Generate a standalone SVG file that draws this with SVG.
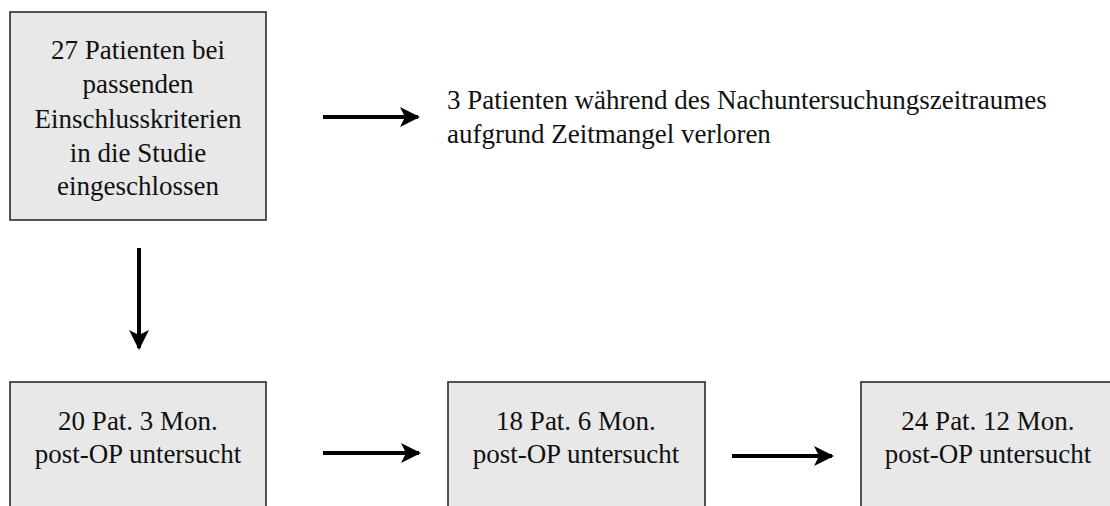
<svg xmlns="http://www.w3.org/2000/svg" width="1110" height="506" viewBox="0 0 1110 506">
<style>
.box{fill:#e8e8e8;stroke:#2b2b2b;stroke-width:1.6}
.t{font-family:'Liberation Serif','Times New Roman',Times,serif;font-size:27px;fill:#111}
.c{text-anchor:middle}
.a{stroke:#000;stroke-width:4;fill:none}
</style>
<defs>
<marker id="ah" viewBox="0 0 10 10" refX="9" refY="5" markerWidth="5" markerHeight="5" markerUnits="strokeWidth" orient="auto">
<path d="M0,0 L10,5 L0,10 L2.5,5 Z" fill="#000"/>
</marker>
</defs>
<rect width="1110" height="506" fill="#fff"/>
<g id="n1">
<rect class="box" x="10" y="12" width="256" height="208"/>
<text class="t c" x="138" y="59">27 Patienten bei</text>
<text class="t c" x="138" y="93">passenden</text>
<text class="t c" x="138" y="128">Einschlusskriterien</text>
<text class="t c" x="138" y="162">in die Studie</text>
<text class="t c" x="138" y="195">eingeschlossen</text>
</g>
<g id="n2">
<text class="t" x="447" y="109">3 Patienten während des Nachuntersuchungszeitraumes</text>
<text class="t" x="447" y="143">aufgrund Zeitmangel verloren</text>
</g>
<g id="n3">
<rect class="box" x="10" y="382" width="256" height="140"/>
<text class="t c" x="138" y="430">20 Pat. 3 Mon.</text>
<text class="t c" x="138" y="463">post-OP untersucht</text>
</g>
<g id="n4">
<rect class="box" x="448" y="382" width="257" height="140"/>
<text class="t c" x="576" y="430">18 Pat. 6 Mon.</text>
<text class="t c" x="576" y="463">post-OP untersucht</text>
</g>
<g id="n5">
<rect class="box" x="861" y="382" width="260" height="140"/>
<text class="t c" x="988" y="430">24 Pat. 12 Mon.</text>
<text class="t c" x="988" y="463">post-OP untersucht</text>
</g>
<g id="connectors">
<line class="a" x1="323" y1="117" x2="418" y2="117" marker-end="url(#ah)"/>
<line class="a" x1="139" y1="248" x2="139" y2="348" marker-end="url(#ah)"/>
<line class="a" x1="323" y1="453" x2="419" y2="453" marker-end="url(#ah)"/>
<line class="a" x1="732" y1="456" x2="832" y2="456" marker-end="url(#ah)"/>
</g>
</svg>
